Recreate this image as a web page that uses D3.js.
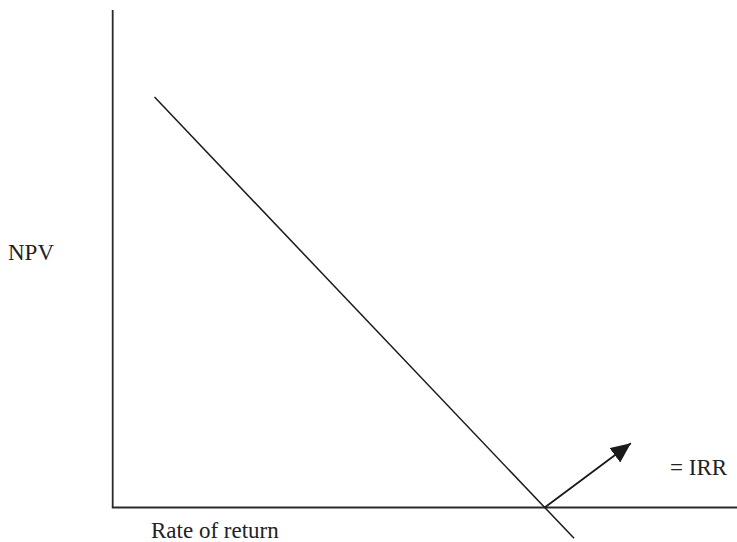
<!DOCTYPE html>
<html>
<head>
<meta charset="utf-8">
<script src="https://cdn.jsdelivr.net/npm/d3@7"></script>
<style>
  html, body { margin: 0; padding: 0; background: #fff; }
  svg { display: block; }
  text { font-family: "Liberation Serif", "DejaVu Serif", serif; fill: #222; }
</style>
</head>
<body>
<svg id="chart" width="737" height="542"></svg>
<script>
// Conceptual data (arbitrary units): rate of return (x) and NPV (y)
const rateDomain = [0, 100];
const npvDomain = [0, 100];
// NPV profile line
const npvProfile = [
  { rate: 6.7, npv: 82.5 },
  { rate: 73.9, npv: -6.2 }
];
// IRR point (where NPV = 0) and arrow pointing to the label
const irrRate = 69.2;
const arrowTip = { rate: 83.0, npv: 12.9 };
const labels = { y: "NPV", x: "Rate of return", irr: "= IRR" };

const svg = d3.select("#chart");
const x = d3.scaleLinear().domain(rateDomain).range([112.7, 737]);
const y = d3.scaleLinear().domain(npvDomain).range([507.5, 10]);

svg.append("defs").append("marker")
  .attr("id", "arrow")
  .attr("viewBox", "0 0 20 18")
  .attr("refX", 20).attr("refY", 9)
  .attr("markerWidth", 20).attr("markerHeight", 18)
  .attr("markerUnits", "userSpaceOnUse")
  .attr("orient", "auto")
  .append("path")
  .attr("d", "M0,0 L20,9 L0,18 Z")
  .attr("fill", "#1a1a1a");

// Axes (plain lines, no ticks)
const stroke = "#2a2a2a";
svg.append("line")
  .attr("x1", x(0)).attr("x2", x(0))
  .attr("y1", y(100)).attr("y2", y(0))
  .attr("stroke", stroke).attr("stroke-width", 1.8);
svg.append("line")
  .attr("x1", x(0) - 0.9).attr("x2", x(100))
  .attr("y1", y(0)).attr("y2", y(0))
  .attr("stroke", stroke).attr("stroke-width", 1.8);

// NPV profile
const line = d3.line().x(d => x(d.rate)).y(d => y(d.npv));
svg.append("path")
  .datum(npvProfile)
  .attr("d", line)
  .attr("fill", "none")
  .attr("stroke", "#1a1a1a")
  .attr("stroke-width", 1.5);

// Arrow from IRR to label
svg.append("line")
  .attr("x1", x(irrRate)).attr("y1", y(0))
  .attr("x2", x(arrowTip.rate)).attr("y2", y(arrowTip.npv))
  .attr("stroke", "#1a1a1a").attr("stroke-width", 1.8)
  .attr("marker-end", "url(#arrow)");

// Labels
svg.append("text").attr("x", 8).attr("y", 260)
  .attr("font-size", 23).text(labels.y);
svg.append("text").attr("x", 151).attr("y", 538)
  .attr("font-size", 23).text(labels.x);
svg.append("text").attr("x", 670).attr("y", 475)
  .attr("font-size", 23).text(labels.irr);
</script>
</body>
</html>
